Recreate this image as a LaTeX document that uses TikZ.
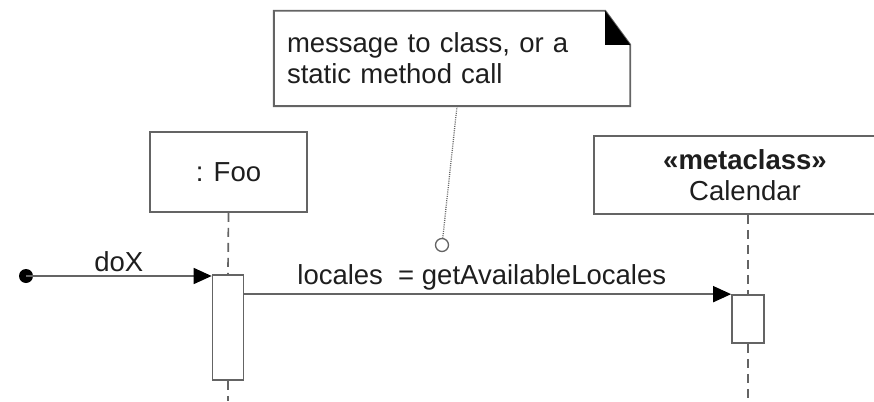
\documentclass[tikz,border=0pt]{standalone}
\usepackage{fontspec}
\setmainfont{Liberation Sans}
\usetikzlibrary{arrows.meta,calc}
\definecolor{umlline}{RGB}{100,100,100}
\definecolor{umltext}{RGB}{30,30,30}

\begin{document}
\begin{tikzpicture}[x=1pt, y=-1pt,
    every node/.style={font=\fontsize{27.5}{31}\selectfont, text=umltext},
    box/.style={draw=umlline, line width=1.9pt, fill=white, inner sep=0pt, align=center},
    bar/.style={draw=umlline, line width=1.7pt, fill=white, minimum width=31pt, inner sep=0pt},
    life/.style={umlline, line width=1.7pt, dash pattern=on 9pt off 6pt},
    msg/.style={umlline, line width=1.6pt, -{Triangle[length=18pt, width=16pt, color=black]}},
    pinline/.style={umlline, line width=1.3pt, dash pattern=on 1pt off 1.2pt},
    ]
    \useasboundingbox (0,0) rectangle (874,401);

    \node[inner sep=0pt, minimum width=356pt, minimum height=95pt,
          text width=330pt, align=left] (note) at (452,58.5)
          {message to class, or a\\static method call};
    \draw[umlline, line width=1.9pt] (note.north west)
        -- ($(note.north east)+(-25,0)$) -- ($(note.north east)+(0,34)$)
        -- (note.south east) -- (note.south west) -- cycle;
    \fill[black] ($(note.north east)+(-25,0)$) -- ($(note.north east)+(0,34)$)
        -- ($(note.north east)+(-25,34)$) -- cycle;

    \node[box, minimum width=157pt, minimum height=80pt] (foo) at (228.5,172) {: Foo};
    \node[box, minimum width=302pt, minimum height=78pt] (cal) at (745,175)
        {\textbf{«metaclass»}\\Calendar};

    \node[bar, minimum height=105pt] (fooact) at (228,327.5) {};
    \node[bar, minimum height=48pt, minimum width=32pt] (calact) at (748,319) {};

    \coordinate (fooend) at (228,401);
    \coordinate (calend) at (748,401);
    \draw[life] (foo.south) -- (fooact.north);
    \draw[life] (fooact.south) -- (fooend);
    \draw[life] (calact.north |- cal.south) -- (calact.north);
    \draw[life] (calact.south) -- (calend);

    \node[circle, fill=black, inner sep=0pt, minimum size=14pt] (start) at (26,276) {};
    \node[circle, draw=umlline, fill=white, line width=1.3pt, inner sep=0pt, minimum size=13pt] (pin) at (442,245) {};

    \draw[pinline] ([xshift=5pt]note.south) -- (pin);
    \draw[msg] (start.center) -- (start -| fooact.west)
        node[midway, above, inner sep=3pt] {doX};
    \draw[msg] (fooact.east |- calact.north) -- (calact.north west)
        node[midway, above, inner sep=3pt, xshift=-6pt] {locales~ = getAvailableLocales};
\end{tikzpicture}
\end{document}
